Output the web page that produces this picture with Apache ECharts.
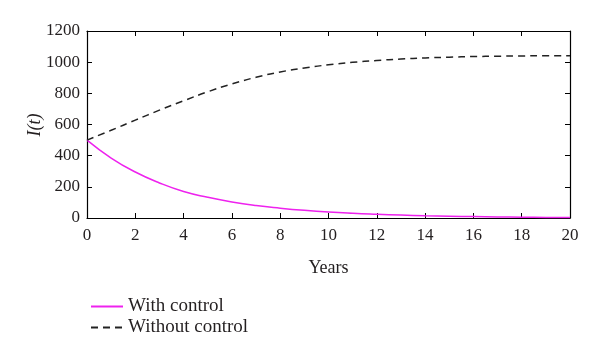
<!DOCTYPE html>
<html><head><meta charset="utf-8">
<script src="https://cdn.jsdelivr.net/npm/echarts@6/dist/echarts.min.js"></script>
<style>html,body{margin:0;padding:0;background:#fff}#c{width:600px;height:360px}</style>
</head><body><div id="c"></div>
<script>
const years = [0,1,2,3,4,5,6,7,8,9,10,11,12,13,14,15,16,17,18,19,20];
const withControl = [500,385,295,225,170,133,103,80,63,49,38,30,24,19,15,12,9,7,5,4,3];
const withoutControl = [500,563,628,692,752,810,860,903,937,963,983,999,1011,1020,1027,1032,1036,1038,1040,1041,1041];
const seriesNames = ['With control','Without control'];
const yTitle = 'I(t)';

const font = 'Liberation Serif';
const txt = '#231f20';
const chart = echarts.init(document.getElementById('c'));
const mk = (vals) => years.map((x,i)=>[x,vals[i]]);
const xBase = {type:'value', min:0, max:20, interval:2, gridIndex:0,
  axisLine:{show:true,onZero:false,lineStyle:{color:'#000',width:1.2}},
  axisTick:{show:true,inside:true,length:5,lineStyle:{color:'#000'}},
  splitLine:{show:false}};
const yBase = {type:'value', min:0, max:1200, interval:200,
  axisLine:{show:true,onZero:false,lineStyle:{color:'#000',width:1.2}},
  axisTick:{show:true,inside:true,length:5,lineStyle:{color:'#000'}},
  splitLine:{show:false}};
chart.setOption({
  animation:false,
  backgroundColor:'#fff',
  grid:{left:87, top:31, width:483, height:187},
  graphic:[{type:'text', x:35, y:125, rotation:Math.PI/2,
    style:{text:yTitle, fontFamily:font, fontSize:18, fontStyle:'italic', fill:txt, align:'center', verticalAlign:'middle'}}],
  xAxis:[
    Object.assign({}, xBase, {position:'bottom', name:'Years', nameLocation:'middle', nameGap:41,
      nameTextStyle:{fontFamily:font,fontSize:18,color:txt},
      axisLabel:{fontFamily:font,fontSize:17,color:txt,margin:9}}),
    Object.assign({}, xBase, {position:'top', axisLabel:{show:false}})
  ],
  yAxis:[
    Object.assign({}, yBase, {position:'left',
      axisLabel:{fontFamily:font,fontSize:17,color:txt,margin:7,formatter:(v)=>String(v)}}),
    Object.assign({}, yBase, {position:'right', axisLabel:{show:false}})
  ],
  legend:{orient:'vertical', left:85, top:292, itemWidth:32, itemHeight:10, itemGap:2,
    textStyle:{fontFamily:font,fontSize:19,color:txt},
    itemStyle:{opacity:0},
    data:seriesNames},
  series:[
    {name:seriesNames[0], type:'line', data:mk(withControl), smooth:true, symbol:'none',
     lineStyle:{color:'#ee22ee',width:1.5}, itemStyle:{color:'#ee22ee'}},
    {name:seriesNames[1], type:'line', data:mk(withoutControl), smooth:true, symbol:'none',
     lineStyle:{color:'#222',width:1.5,type:[7,5]}, itemStyle:{color:'#222'}}
  ]
});
</script></body></html>
